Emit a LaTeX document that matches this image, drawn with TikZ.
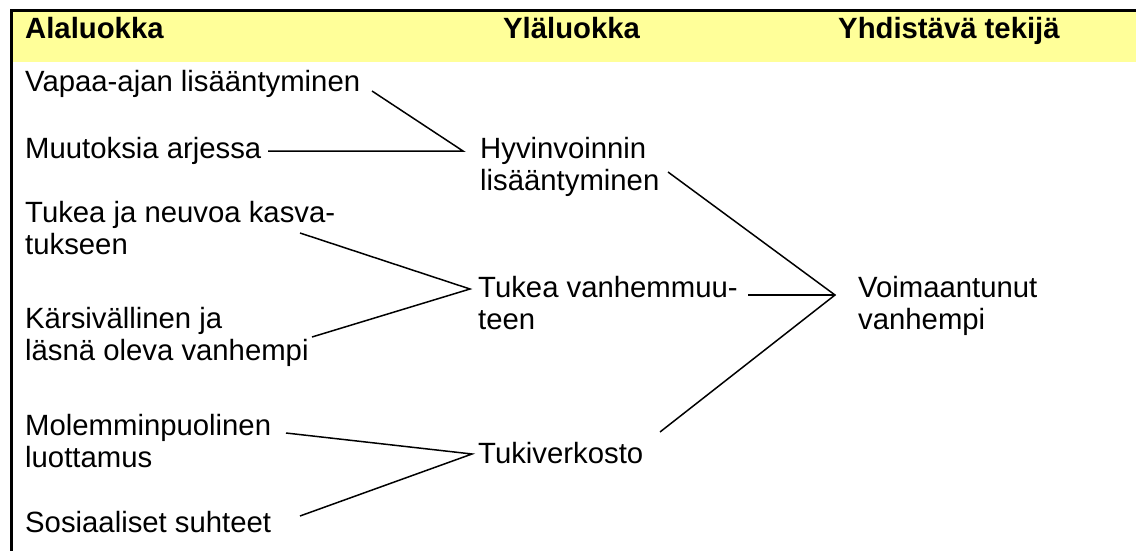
\documentclass[tikz,border=0pt]{standalone}
\usepackage{fontspec}
\setmainfont{Liberation Sans}
\usetikzlibrary{calc}
\definecolor{hdrfill}{RGB}{255,255,153}
\newcommand\twoline[2]{\begin{tabular}[t]{@{}l@{}}#1\\#2\end{tabular}}
\begin{document}
\begin{tikzpicture}[x=1pt,y=-1pt,
  lbl/.style={anchor=base west,inner sep=0pt,font=\fontsize{29.3}{32}\selectfont},
  hd/.style={lbl,font=\fontsize{29.3}{32}\selectfont\bfseries},
  link/.style={line width=1.5pt},
  frame/.style={line width=3pt}]
\useasboundingbox (0,0) rectangle (1136,551);
% header band and frame
\fill[hdrfill] (12,12) rectangle (1136,62);
\draw[frame] (11,551) -- (11,11) -- (1136,11);
% headers
\node[hd] (h1) at (25,39) {Alaluokka};
\node[hd] (h2) at (503,39) {Yläluokka};
\node[hd] (h3) at (838,39) {Yhdistävä tekijä};
% sub-categories
\node[lbl] (a1) at (25,92) {Vapaa-ajan lisääntyminen};
\node[lbl] (a2) at (25,158) {Muutoksia arjessa};
\node[lbl] (a3) at (25,222) {\twoline{Tukea ja neuvoa kasva-}{tukseen}};
\node[lbl] (a4) at (25,328) {\twoline{Kärsivällinen ja}{läsnä oleva vanhempi}};
\node[lbl] (a5) at (25,435) {\twoline{Molemminpuolinen}{luottamus}};
\node[lbl] (a6) at (25,532) {Sosiaaliset suhteet};
% upper categories
\node[lbl] (b1) at (480,158) {\twoline{Hyvinvoinnin}{lisääntyminen}};
\node[lbl] (b2) at (478,297) {\twoline{Tukea vanhemmuu-}{teen}};
\node[lbl] (b3) at (478,463) {Tukiverkosto};
% unifying factor
\node[lbl] (c1) at (858,297) {\twoline{Voimaantunut}{vanhempi}};
% junction points
\coordinate (b1in) at (463,151);
\coordinate (b2in) at (470,289);
\coordinate (b3in) at (472,454);
\coordinate (c1in) at (835,295);
% free ends next to the texts
\coordinate (a1out) at (372,91);
\coordinate (a2out) at (268,151);
\coordinate (a3out) at (300,233);
\coordinate (a4out) at (312,337);
\coordinate (a5out) at (286,433);
\coordinate (a6out) at (300,516);
\coordinate (b1out) at (668,172);
\coordinate (b2out) at (748,295);
\coordinate (b3out) at (660,432);
% connectors
\draw[link] (a1out) -- (b1in) -- (a2out);
\draw[link] (a3out) -- (b2in) -- (a4out);
\draw[link] (a5out) -- (b3in) -- (a6out);
\draw[link] (b1out) -- (c1in) -- (b3out);
\draw[link] (b2out) -- (c1in);
\end{tikzpicture}
\end{document}
